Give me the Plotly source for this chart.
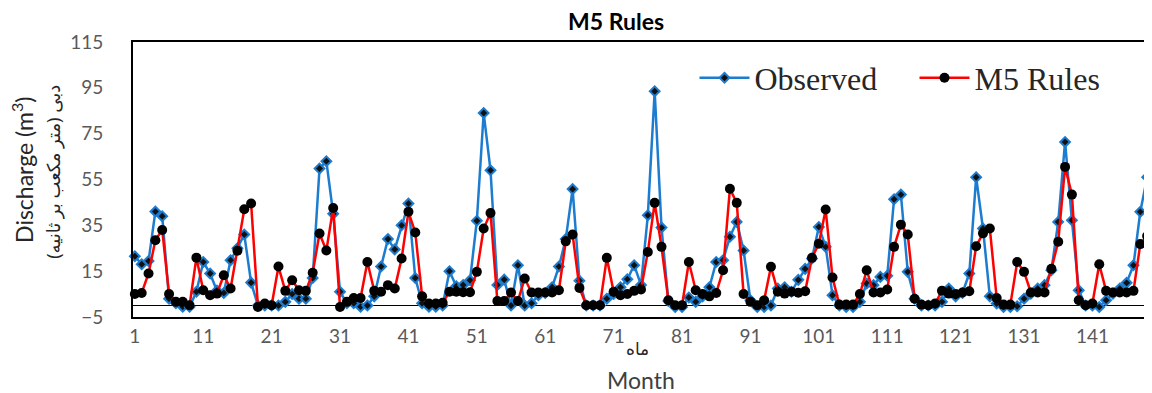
import plotly.graph_objects as go

months = list(range(1, 151))

observed = [
    21.5, 18, 19.4, 41, 39, 3, 1, -0.5, -0.5, 6,
    19, 14, 6.5, 5.5, 19.8, 25, 31, 10, 0, 0,
    0, 0, 1.6, 5, 3, 3, 12, 59.8, 63, 40,
    6, 1, 1, -0.5, 0, 4, 17, 29, 24.5, 35,
    44.5, 12, 1, -0.5, -0.5, 0, 15, 8.4, 9, 11,
    37, 84, 59, 9, 11.3, 0, 17.6, 0, 1, 4.5,
    5.5, 8, 17, 29, 50.8, 10.8, 0, 0, 0, 3,
    5, 8, 11.5, 17.6, 9, 39.4, 93.5, 34, 2, -0.6,
    -0.6, 3.5, 1.6, 4, 8, 19, 19.8, 30, 36.5, 24,
    2.3, -0.6, -0.6, 0, 7.4, 8, 6, 11.2, 16, 20.5,
    34.3, 25.6, 4.5, 0, -0.6, -0.6, 1.6, 9.6, 8.9, 12.5,
    13, 46.4, 48.4, 14.7, 3, 0, 0, 0, 1.6, 7.4,
    4, 5.5, 14, 56, 33.6, 4, 0.9, -0.6, -0.6, -0.3,
    3, 5.2, 7.4, 8.9, 15.4, 36.5, 71.4, 37.2, 6.7, 0,
    0, -0.6, 2.3, 5.2, 7.4, 9.9, 17.6, 40.9, 56, 12.5,
]

m5_rules = [
    5, 5.5, 14, 28.5, 33, 5, 1.6, 1.6, 0.1, 20.9,
    6.7, 4.5, 5.2, 13.2, 7.4, 23.9, 42, 44.5, -0.6, 0.9,
    0.1, 17, 6.4, 11, 6.7, 6.4, 14.3, 31.4, 24, 42.6,
    -0.6, 1.6, 3.3, 3.3, 19, 6.4, 6, 8.9, 7.4, 20.5,
    40.9, 31.9, 4, 0.9, 0.9, 1.2, 6, 6, 5.8, 5.8,
    14.7, 33.6, 40.4, 2, 2, 5.7, 2, 11.8, 5.7, 5.7,
    5.7, 5.7, 6.7, 28, 31, 7.7, 0.1, 0.1, 0.1, 20.8,
    6, 4.5, 5, 6.4, 7, 23.4, 44.8, 25.6, 2.3, 0.1,
    0.1, 19, 6.7, 5, 4, 5.5, 15.4, 51, 44.8, 5,
    1.6, 0.1, 2.3, 16.9, 6, 5.2, 6, 5.6, 6.2, 20.8,
    27, 41.9, 12.2, 0.4, 0.4, 0.4, 5, 15.4, 5.7, 5.7,
    7, 25.6, 35.3, 31, 3, 0.4, 0.1, 0.9, 6.4, 5.2,
    5, 5.7, 6.2, 25.9, 31.5, 33.6, 3.3, 0.4, 0.4, 19,
    14.7, 5.7, 5.7, 5.7, 16, 27.8, 60.5, 48.4, 2.3, 0.1,
    0.9, 18, 6.4, 5.7, 5.7, 5.7, 6.4, 26.8, 30.3, 45.5,
]

x_ticks = [1, 11, 21, 31, 41, 51, 61, 71, 81, 91, 101, 111, 121, 131, 141]
y_ticks = [-5, 15, 35, 55, 75, 95, 115]

# page has an 8px body margin, so the figure is drawn 8px smaller than the window
W, H = 1144, 385
L, R, T, B = 125, 0, 34, 76
PW = W - L - R

TICK_FONT = dict(family="Lato, sans-serif", size=19, color="#595959")

fig = go.Figure()
fig.add_trace(go.Scatter(
    x=months, y=observed, name="Observed", mode="lines+markers", cliponaxis=False,
    line=dict(color="#1C7CD0", width=2.5),
    marker=dict(symbol="diamond", size=7.5, color="#111111",
                line=dict(color="#1C7CD0", width=2)),
))
fig.add_trace(go.Scatter(
    x=months, y=m5_rules, name="M5 Rules", mode="lines+markers", cliponaxis=False,
    line=dict(color="#FF0000", width=2.5),
    marker=dict(symbol="circle", size=10, color="#000000"),
))

fig.update_layout(
    width=W, height=H,
    margin=dict(l=L, r=R, t=T, b=B, autoexpand=False),
    paper_bgcolor="white", plot_bgcolor="white",
    showlegend=True,
    legend=dict(orientation="h", x=(686.5 - L) / PW, y=0.869, xanchor="left", yanchor="middle",
                font=dict(family="Liberation Serif, Times New Roman, serif", size=32, color="#262626"),
                bgcolor="rgba(0,0,0,0)", itemwidth=50, entrywidth=155, entrywidthmode="pixels"),
    xaxis=dict(range=[0.73, 149.71], tickvals=x_ticks, ticktext=[str(v) for v in x_ticks],
               showgrid=False, zeroline=False, showline=True, linecolor="black", linewidth=2,
               mirror=True, ticks="", tickfont=TICK_FONT, ticklabelstandoff=1),
    yaxis=dict(range=[-5, 115], tickvals=y_ticks, showgrid=False,
               zeroline=True, zerolinecolor="black", zerolinewidth=1,
               showline=True, linecolor="black", linewidth=2, mirror=False, ticks="",
               tickfont=TICK_FONT, ticklabelstandoff=24),
    annotations=[
        dict(text="<b>M5 Rules</b>", xref="paper", yref="paper", x=(608 - L) / PW, y=1,
             yshift=21, showarrow=False, xanchor="center", yanchor="middle",
             font=dict(family="Lato, sans-serif", size=23, color="black")),
        dict(text="Discharge (m<sup>3</sup>)", xref="paper", yref="paper", x=0, y=0.535,
             xshift=-110, showarrow=False, textangle=-90, xanchor="center", yanchor="middle",
             font=dict(family="Lato, sans-serif", size=23, color="#262626")),
        dict(text="\u200fدبی (متر مکعب بر ثانیه)\u200f", xref="paper", yref="paper", x=0, y=0.528,
             xshift=-80, showarrow=False, textangle=-90, xanchor="center", yanchor="middle",
             font=dict(family="Noto Sans, DejaVu Sans, sans-serif", size=18, color="#262626")),
        dict(text="ماه", xref="paper", yref="paper", x=(629 - L) / PW, y=0, yshift=-31,
             showarrow=False, xanchor="center", yanchor="middle",
             font=dict(family="Noto Sans, DejaVu Sans, sans-serif", size=17, color="#262626")),
        dict(text="Month", xref="paper", yref="paper", x=(633 - L) / PW, y=0, yshift=-63,
             showarrow=False, xanchor="center", yanchor="middle",
             font=dict(family="Lato, sans-serif", size=23, color="#404040")),
    ],
)

fig.write_html("out.html")
